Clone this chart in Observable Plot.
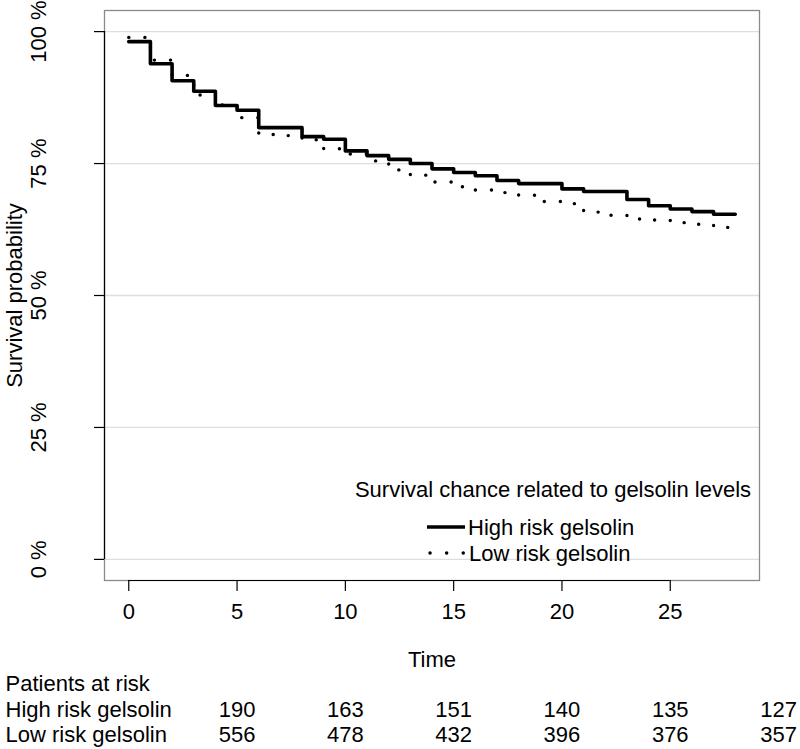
<!DOCTYPE html>
<html><head><meta charset="utf-8">
<script src="https://cdn.jsdelivr.net/npm/d3@7"></script>
<script src="https://cdn.jsdelivr.net/npm/@observablehq/plot@0.6"></script>
<style>
body{margin:0;background:#fff}
svg{font-family:"Liberation Sans",Arial,sans-serif}
</style>
</head><body><div id="chart"></div>
<script>
// ---- data ----
const times = [0,1,2,3,4,5,6,7,8,9,10,11,12,13,14,15,16,17,18,19,20,21,22,23,24,25,26,27,28];
const highRisk = [0.981,0.939,0.907,0.887,0.860,0.851,0.818,0.818,0.801,0.796,0.774,0.765,0.758,0.750,0.740,0.733,0.727,0.718,0.712,0.712,0.702,0.697,0.697,0.682,0.670,0.664,0.659,0.654,0.654];
const lowRisk  = [0.989,0.946,0.917,0.880,0.861,0.837,0.805,0.803,0.795,0.778,0.768,0.755,0.738,0.728,0.715,0.706,0.700,0.695,0.690,0.678,0.674,0.658,0.652,0.645,0.643,0.638,0.635,0.629,0.629];
const seriesNames = ["High risk gelsolin","Low risk gelsolin"];
const xTicks = [0,5,10,15,20,25];
const yTicks = [0,0.25,0.5,0.75,1];
const yTickLabels = ["0 %","25 %","50 %","75 %","100 %"];
const riskTimes = [5,10,15,20,25,30];
const highAtRisk = [190,163,151,140,135,127];
const lowAtRisk = [556,478,432,396,376,357];
const legendTitle = "Survival chance related to gelsolin levels";
const xLabel = "Time";
const yLabel = "Survival probability";
const tableTitle = "Patients at risk";

// ---- build ----
const highData = times.map((t,i)=>({time:t, surv:highRisk[i], group:seriesNames[0]}));
const lowData  = times.map((t,i)=>({time:t, surv:lowRisk[i], group:seriesNames[1]}));
const tMax = d3.max(times);
const xDomain = [-0.04*tMax, tMax*1.04];
const yDomain = [-0.04, 1.04];
const FS = 22;

function legendMark(index, scales, values, dims) {
  const right = dims.width - dims.marginRight;
  const bottom = dims.height - dims.marginBottom;
  const g = d3.create("svg:g").attr("font-size", FS).attr("fill", "#000");
  g.append("text").attr("x", right - 206).attr("y", bottom - 91)
    .attr("text-anchor","middle").attr("dominant-baseline","central").text(legendTitle);
  g.append("line").attr("x1", right - 332).attr("x2", right - 294)
    .attr("y1", bottom - 53).attr("y2", bottom - 53)
    .attr("stroke","#000").attr("stroke-width",3.6);
  g.append("line").attr("x1", right - 329).attr("x2", right - 294)
    .attr("y1", bottom - 27).attr("y2", bottom - 27)
    .attr("stroke","#000").attr("stroke-width",3.4).attr("stroke-linecap","round")
    .attr("stroke-dasharray","0.1 16.5");
  g.append("text").attr("x", right - 291).attr("y", bottom - 53)
    .attr("text-anchor","start").attr("dominant-baseline","central").text(seriesNames[0]);
  g.append("text").attr("x", right - 290).attr("y", bottom - 27)
    .attr("text-anchor","start").attr("dominant-baseline","central").text(seriesNames[1]);
  return g.node();
}

const chart = Plot.plot({
  width: 800, height: 749,
  marginTop: 10, marginBottom: 169, marginLeft: 104, marginRight: 41,
  style: {fontFamily: '"Liberation Sans", Arial, sans-serif', fontSize: FS + "px", color: "#000", background: "#fff", overflow: "visible"},
  x: {domain: xDomain},
  y: {domain: yDomain},
  marks: [
    Plot.ruleY(yTicks, {stroke: "#dedede", strokeWidth: 1.3}),
    Plot.frame({stroke: "#8a8a8a", strokeWidth: 1.3}),
    Plot.ruleX([xDomain[0]], {y1: yTicks[0], y2: yTicks[yTicks.length-1], stroke: "#000", strokeWidth: 1.2}),
    Plot.ruleY([yDomain[0]], {x1: xTicks[0], x2: xTicks[xTicks.length-1], stroke: "#000", strokeWidth: 1.2}),
    Plot.axisY(yTicks, {tickSize: 10, tickFormat: () => "", label: null, strokeWidth: 1.2}),
    Plot.text(yTicks, {y: d => d, text: (d,i) => yTickLabels[i], frameAnchor: "left", textAnchor: "middle", dx: -66, rotate: -90, fontSize: FS}),
    Plot.axisX(xTicks, {tickSize: 11, tickPadding: 12, label: null, fontSize: FS, strokeWidth: 1.2}),
    Plot.text([xLabel], {frameAnchor: "bottom", dy: 86, fontSize: FS}),
    Plot.text([yLabel], {frameAnchor: "left", textAnchor: "middle", dx: -90, rotate: -90, fontSize: FS}),
    Plot.line(highData, {x: "time", y: "surv", curve: "step-after", stroke: "#000", strokeWidth: 3.6}),
    Plot.line(lowData, {x: "time", y: "surv", curve: "step-after", stroke: "#000", strokeWidth: 3.4, strokeDasharray: "0.1 16", strokeLinecap: "round"}),
    legendMark,
    Plot.text([tableTitle], {frameAnchor: "bottom-left", dx: -99, dy: 110, textAnchor: "start", fontSize: FS}),
    Plot.text([seriesNames[0]], {frameAnchor: "bottom-left", dx: -99, dy: 136, textAnchor: "start", fontSize: FS}),
    Plot.text([seriesNames[1]], {frameAnchor: "bottom-left", dx: -99, dy: 161, textAnchor: "start", fontSize: FS}),
    Plot.text(riskTimes, {x: d => d, text: (d,i) => String(highAtRisk[i]), frameAnchor: "bottom", dy: 136, fontSize: FS}),
    Plot.text(riskTimes, {x: d => d, text: (d,i) => String(lowAtRisk[i]), frameAnchor: "bottom", dy: 161, fontSize: FS})
  ]
});
document.getElementById("chart").appendChild(chart);
</script>
</body></html>
